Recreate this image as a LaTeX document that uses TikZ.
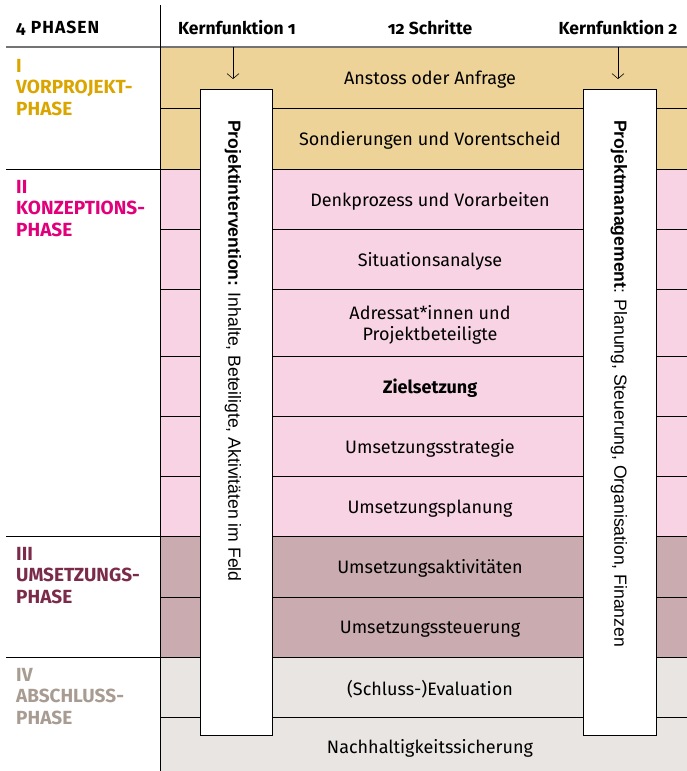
\documentclass[tikz,border=0pt]{standalone}
\usepackage{fontspec}
\setmainfont{Fira Sans}
\newfontfamily\vfont{Liberation Sans}
\newfontfamily\oldfig[Numbers=OldStyle]{Fira Sans}
\usetikzlibrary{arrows.meta}
\definecolor{cTan}{HTML}{EDD398}
\definecolor{cPink}{HTML}{F8D3E4}
\definecolor{cMauve}{HTML}{C9ABB0}
\definecolor{cGray}{HTML}{E9E5E2}
\definecolor{tGold}{HTML}{DBA500}
\definecolor{tMag}{HTML}{E2007A}
\definecolor{tMaroon}{HTML}{7B2B4A}
\definecolor{tTaupe}{HTML}{A89C92}
\tikzset{
  celltext/.style={font=\fontsize{18}{21}\selectfont, align=center, inner sep=0pt, yshift=-1.5pt},
  headtext/.style={font=\oldfig\bfseries\fontsize{17.5}{20}\selectfont, inner sep=0pt},
  phaselabel/.style={font=\bfseries\fontsize{19}{21.5}\selectfont, align=left, anchor=north west, inner sep=0pt},
  bar/.style={draw=black, line width=0.8pt, fill=white},
  vtext/.style={font=\vfont\fontsize{17.6}{20}\selectfont, rotate=-90, anchor=west, inner sep=0pt},
  rowline/.style={line width=0.8pt, black},
  arr/.style={-{Straight Barb[length=5pt,width=12pt]}, line width=0.6pt}
}
\begin{document}
\begin{tikzpicture}[x=1pt,y=-1pt]
\useasboundingbox (0,0) rectangle (687,771);
% backgrounds
\fill[cTan] (160,47) rectangle (687,169);
\fill[cPink] (160,169) rectangle (687,536);
\fill[cMauve] (160,536) rectangle (687,657);
\fill[cGray] (160,657) rectangle (687,771);
% row lines
\foreach \yy in {108,169,229,289,356,416,476,536,597,657,717}
  \draw[rowline] (160,\yy) -- (687,\yy);
\foreach \yy in {169,536,657}
  \draw[rowline] (6,\yy) -- (160,\yy);
\draw[line width=1.2pt, black!55] (6,47) -- (687,47);
\draw[line width=0.8pt] (160,5) -- (160,771);
% header
\node[headtext, anchor=west, font=\oldfig\bfseries\fontsize{17.5}{20}\selectfont\addfontfeature{LetterSpace=6}] (h0) at (16,28) {4 PHASEN};
\node[headtext] (h1) at (237,28) {Kernfunktion 1};
\node[headtext] (h2) at (430,28) {12 Schritte};
\node[headtext] (h3) at (618,28) {Kernfunktion 2};
% phase labels
\node[phaselabel, text=tGold] (p1) at (16,59) {I\\VORPROJEKT-\\PHASE};
\node[phaselabel, text=tMag] (p2) at (16,180) {II\\KONZEPTIONS-\\PHASE};
\node[phaselabel, text=tMaroon] (p3) at (16,547) {III\\UMSETZUNGS-\\PHASE};
\node[phaselabel, text=tTaupe] (p4) at (16,668) {IV\\ABSCHLUSS-\\PHASE};
% step texts
\node[celltext] (s1) at (430,78) {Anstoss oder Anfrage};
\node[celltext] (s2) at (430,139) {Sondierungen und Vorentscheid};
\node[celltext] (s3) at (430,200) {Denkprozess und Vorarbeiten};
\node[celltext] (s4) at (430,260) {Situationsanalyse};
\node[celltext] (s5) at (430,323) {Adressat*innen und\\Projektbeteiligte};
\node[celltext, font=\bfseries\fontsize{18}{21}\selectfont] (s6) at (430,387) {Zielsetzung};
\node[celltext] (s7) at (430,447) {Umsetzungsstrategie};
\node[celltext] (s8) at (430,507) {Umsetzungsplanung};
\node[celltext] (s9) at (430,567) {Umsetzungsaktivitäten};
\node[celltext] (s10) at (430,628) {Umsetzungssteuerung};
\node[celltext] (s11) at (430,688) {(Schluss-)Evaluation};
\node[celltext] (s12) at (430,747) {Nachhaltigkeitssicherung};
% bars
\node[bar, minimum width=72pt, minimum height=646pt, anchor=north west, inner sep=0pt] (b1) at (200,89) {};
\node[bar, minimum width=73pt, minimum height=646pt, anchor=north west, inner sep=0pt] (b2) at (583,89) {};
\node[vtext] (v1) at (233,120) {\textbf{Projektintervention:} Inhalte, Beteiligte, Aktivitäten im Feld};
\node[vtext] (v2) at (619,120) {\textbf{Projektmanagement}: Planung, Steuerung, Organisation, Finanzen};
% arrows
\coordinate (a1) at (233,47);
\coordinate (a2) at (618,47);
\coordinate (e1) at (233,79);
\coordinate (e2) at (618,79);
\draw[arr] (a1) -- (e1);
\draw[arr] (a2) -- (e2);
\end{tikzpicture}
\end{document}
